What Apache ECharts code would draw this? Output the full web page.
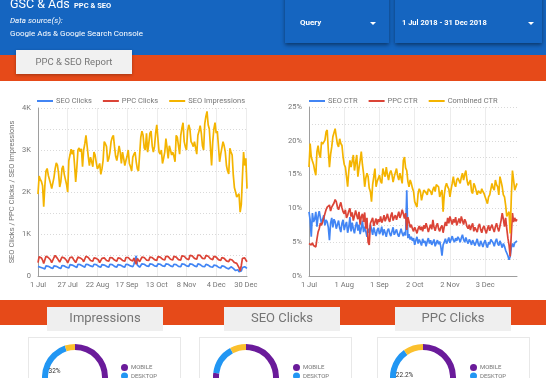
<!DOCTYPE html>
<html><head><meta charset="utf-8">
<script src="https://cdn.jsdelivr.net/npm/echarts/dist/echarts.min.js"></script>
<style>html,body{margin:0;padding:0;background:#fff}#c{width:546px;height:378px}</style>
</head><body><div id="c"></div>
<script>
// ---------- data ----------
const monthNames = ['Jul','Aug','Sep','Oct','Nov','Dec'];
const monthLengths = [31,31,30,31,30,31];
const leftTickLabels = ['1 Jul','27 Jul','22 Aug','17 Sep','13 Oct','8 Nov','4 Dec','30 Dec'];
const rightTickLabels = ['1 Jul','1 Aug','1 Sep','2 Oct','2 Nov','3 Dec'];

const seoClicks = [
230,220,210,200,190,150,170, 240,250,230,220,200,160,180, 240,250,230,220,200,170,180,
250,260,240,230,210,180,190, 270,280,260,250,230,190,200, 280,290,270,260,240,200,210,
280,300,270,260,240,200,220, 280,290,270,250,230,200,210, 270,280,260,250,230,190,210,
280,290,270,250,230,200,210, 270,280,260,250,230,190,210, 280,290,270,260,240,200,220,
280,290,480,260,240,210,220, 290,300,280,260,240,210,230, 290,310,280,260,240,210,230,
290,300,280,260,240,210,230, 290,300,280,260,240,210,220, 280,300,270,250,230,200,220,
290,300,280,260,240,210,230, 290,310,280,260,240,210,220, 290,300,270,250,230,200,220,
280,290,260,240,220,190,210, 260,270,250,230,210,180,190, 240,250,230,210,190,160,170,
210,220,200,180,160,130,140, 150,100,70,120,200,230,220, 200,180];

const ppcClicks = [
320,460,500,430,380,300,340, 470,510,440,400,380,320,330, 440,490,470,420,390,330,350,
450,480,430,410,370,310,340, 440,470,450,400,380,320,330, 450,460,430,400,390,340,360,
470,490,440,410,370,330,350, 430,460,420,400,380,320,340, 420,440,430,410,370,330,350,
440,460,430,400,380,340,350, 430,450,420,400,370,330,350, 440,460,440,410,380,340,360,
430,450,280,420,390,340,360, 450,470,440,420,380,350,370, 450,470,440,420,390,350,370,
460,480,450,430,400,360,380, 470,490,460,430,400,360,380, 470,480,450,420,390,360,380,
480,500,470,440,410,370,390, 490,510,480,450,420,380,400, 500,530,490,460,420,390,410,
490,510,470,440,410,370,390, 470,490,450,420,390,350,370, 440,460,420,390,360,320,340,
400,420,380,350,320,280,300, 330,200,120,250,420,460,430, 380,340];

const seoImpressions = [
1950,2380,2300,2250,2150,1650,2150,2500,2560,2400,
2380,2200,2080,2060,2350,2550,2690,2640,2450,2120,
2250,2560,2620,2420,2300,2180,2000,2750,2880,3020,
2900,3000,2650,2240,2580,3000,3050,2960,3030,2600,
3000,3150,3350,3100,2850,2630,2830,2720,2600,2950,
2880,2700,2550,2600,2680,2420,2550,2750,3200,3150,
3080,2720,2800,2950,3200,3300,3350,3080,2850,2750,
2900,3100,2950,2680,2950,2800,2630,2750,2850,3000,
2680,2600,2500,2830,2900,2950,2720,2550,2500,2900,
3300,3450,3350,3050,3000,3400,2950,3150,3400,3450,
3100,2950,3080,3400,3600,3270,2950,2900,3000,2680,
2800,2950,3270,3050,2800,3100,3000,2880,2950,2850,
2720,3350,3300,3270,2900,3350,3520,3650,3200,3080,
3000,3450,3600,3500,3200,3150,3080,3200,3050,2900,
3350,3450,3580,3400,3100,3000,3620,3800,3920,3600,
3500,3470,2630,3200,3500,3650,3400,3450,3100,2720,
2900,2880,3200,3100,2950,2630,2500,2430,3040,2950,
2880,2400,2100,2000,1880,1920,1960,1520,1700,2360,
2950,2630,2800,2080];

const seoCtr = [
9.5,8.3,5.8,9.3,8.0,8.4,9.5, 7.3,8.8,9.6,8.6,7.8,8.4,9.0, 7.5,8.3,8.0,7.2,5.3,7.8,8.6,
7.2,8.4,8.0,7.0,7.6,8.2,7.1, 6.5,7.8,8.3,6.8,7.5,8.0,6.4, 7.2,8.7,6.6,7.9,7.0,6.3,7.4,
8.0,6.7,7.6,6.2,7.1,8.2,6.5, 7.3,6.6,5.8,7.0,6.4,7.6,6.9, 6.1,7.2,6.5,5.9,6.8,7.1,6.2,
6.6,7.3,6.0,6.9,6.4,5.8,6.7, 7.0,6.3,5.9,6.6,7.2,6.1,6.5, 6.9,6.2,5.8,6.4,7.0,6.3,5.9,
6.5,6.0,12.7,5.6,6.2,5.4,5.8, 5.2,5.6,4.6,5.3,5.8,4.8,5.4, 5.0,4.5,5.5,4.9,5.2,4.4,5.1,
5.6,4.8,5.3,4.6,5.0,5.4,4.4, 4.9,5.3,4.7,5.1,4.3,3.0,4.6, 5.0,5.5,4.8,5.2,5.7,4.9,5.4,
5.9,5.3,5.0,5.6,5.2,5.8,5.5, 5.0,5.6,6.1,5.4,5.0,5.7,5.2, 4.8,5.4,5.1,4.6,5.3,4.9,4.5,
5.0,5.5,4.7,4.4,5.2,4.8,4.3, 4.9,5.3,4.6,4.2,5.0,4.7,5.4, 5.6,4.9,4.4,5.1,5.5,4.8,4.5,
5.2,4.7,4.2,4.8,4.4,3.8,3.4, 3.0,2.4,2.9,4.2,4.8,4.3,4.9, 5.0,5.2];

const ppcCtr = [
4.8,5.0,4.6,4.9,4.5,4.4,4.3, 5.5,6.5,7.0,7.8,7.5,8.0,8.6, 9.2,9.8,10.2,10.0,10.5,9.6,10.2,
10.5,10.8,11.3,11.0,10.2,9.8,10.4, 10.9,10.1,9.5,9.2,9.8,8.6,9.0, 9.6,10.0,8.8,9.4,8.2,8.9,9.7,
9.0,8.4,9.5,7.6,8.8,9.2,8.0, 9.4,7.0,8.6,5.0,4.6,7.8,8.2, 8.6,7.4,8.0,8.5,7.6,8.4,8.0,
8.8,7.9,8.3,9.0,8.1,8.6,9.2, 8.4,8.0,8.9,9.4,8.2,8.7,9.0, 8.3,8.9,9.5,8.6,9.1,9.8,9.2,
8.5,9.3,6.8,8.7,8.0,7.2,7.6, 7.0,6.6,7.2,6.8,6.3,7.0,7.4, 6.8,7.3,6.6,7.5,7.0,7.8,7.2,
6.5,7.1,7.6,6.9,8.3,7.2,6.7, 7.4,7.8,7.0,6.6,7.2,7.5,6.4, 7.3,8.0,7.4,8.6,7.8,8.8,8.2,
7.6,8.4,7.9,8.7,7.5,8.0,8.5, 7.8,8.8,8.2,7.6,8.4,8.0,7.3, 7.0,7.6,6.8,7.4,7.8,6.6,7.2,
7.0,6.5,7.3,7.7,6.9,6.4,7.1, 7.4,6.8,6.3,7.0,7.5,6.7,7.2, 7.6,7.0,6.5,7.3,7.8,7.1,6.6,
7.4,8.2,9.3,8.4,7.3,8.6,7.0, 5.6,4.6,2.9,6.2,9.3,8.0,8.6, 8.1,8.4];

const combinedCtr = [
16.1,19.6,17.6,17.0,16.5,15.6,14.9,18.4,19.3,18.0,
17.5,19.8,19.5,19.3,20.1,21.3,21.6,18.6,16.1,18.0,
19.1,20.6,21.2,21.8,20.6,19.5,19.1,20.3,19.6,19.3,
17.6,16.5,16.1,14.7,13.2,15.5,17.1,16.1,17.0,17.9,
15.6,16.8,17.9,14.7,16.0,17.1,18.4,16.5,15.2,13.2,
14.5,15.2,14.7,13.0,12.5,11.0,13.5,14.7,15.9,13.2,
14.0,14.2,14.9,14.0,13.7,15.9,15.2,14.7,16.1,15.0,
14.2,15.2,15.6,15.0,13.9,14.7,15.3,15.9,14.8,14.2,
15.2,14.5,13.7,17.1,17.6,16.0,15.6,14.0,13.2,14.2,
13.7,13.0,12.5,11.0,10.8,10.2,12.2,12.9,12.5,11.2,
12.0,12.7,12.7,12.3,12.0,12.9,12.7,12.5,12.0,12.8,
13.2,12.5,13.5,13.4,13.2,11.7,12.3,12.7,9.5,12.0,
13.2,13.7,13.2,12.9,11.7,12.8,13.7,14.7,13.6,13.2,
14.2,14.5,14.7,13.7,14.6,15.2,14.2,15.0,15.6,14.2,
13.4,13.2,14.2,12.5,12.2,13.7,13.3,13.2,12.0,12.6,
12.7,12.2,12.9,12.5,12.2,11.7,11.2,10.7,11.7,12.0,
12.2,13.7,13.0,12.7,14.2,13.5,13.2,12.0,14.7,14.0,
13.2,12.0,11.7,10.5,8.8,9.2,9.5,6.3,11.7,15.6,
14.2,12.7,13.2,13.7];

const deviceNames = ['MOBILE','DESKTOP','TABLET'];
const impressionsShare = [63, 32, 5];
const seoClicksShare = [77, 15, 8];
const ppcClicksShare = [68, 22.2, 9.8];

// ---------- build ----------
const days = [];
monthNames.forEach((m, i) => { for (let d = 1; d <= monthLengths[i]; d++) days.push(d + ' ' + m); });

const FONT = 'Roboto';
const GREY = '#757575';
const BLUE = '#4285f4', RED = '#db4437', YELLOW = '#f4b400';
const deviceColors = ['#6a1b9a', '#2196f3', '#fbc02d'];

const leftShow = (i) => leftTickLabels.indexOf(days[i]) >= 0;
const rightShow = (i) => rightTickLabels.indexOf(days[i]) >= 0;

function xAxisFor(gridIndex, showFn) {
  return {
    type: 'category', gridIndex, data: days, boundaryGap: false,
    axisLine: { lineStyle: { color: '#9e9e9e', width: 1 } },
    axisTick: { show: false },
    axisLabel: { interval: showFn, fontSize: 7.5, color: GREY, fontFamily: FONT, margin: 5 },
    splitLine: { show: true, interval: showFn, lineStyle: { color: '#ececec', width: 1 } }
  };
}

function line(name, data, color, xi) {
  return {
    type: 'line', name, data, xAxisIndex: xi, yAxisIndex: xi,
    showSymbol: false, symbol: 'none', smooth: false,
    lineStyle: { color, width: 1.7 }, itemStyle: { color }, silent: true
  };
}

function pie(name, values, cx, labelIdx, labelOffset) {
  return {
    type: 'pie', name, center: [cx, 377], radius: [27, 33], startAngle: 90, clockwise: true,
    silent: true, avoidLabelOverlap: false,
    label: { show: false },
    labelLine: { show: false },
    data: values.map((v, i) => ({
      name: deviceNames[i], value: v,
      itemStyle: { color: deviceColors[i] },
      label: i === labelIdx ? { show: true, position: 'inside', formatter: '{d}%', fontSize: 6.5,
        color: '#333', fontFamily: FONT, offset: labelOffset } : { show: false }
    }))
  };
}

function pieLegend(left) {
  return {
    data: deviceNames, orient: 'vertical', left, top: 364, height: 60, icon: 'circle',
    itemWidth: 7, itemHeight: 7, itemGap: 1.5, selectedMode: false, padding: 0,
    textStyle: { fontSize: 6, color: GREY, fontFamily: FONT, padding: [0, 0, 0, -2] }
  };
}

function lineLegend(left, names) {
  return {
    data: names, left, top: 97, icon: 'rect', itemWidth: 16, itemHeight: 2, itemGap: 11, padding: 0,
    selectedMode: false, textStyle: { fontSize: 7.5, color: GREY, fontFamily: FONT, padding: [0, 0, 0, -2] }
  };
}

const graphic = [
  { type: 'rect', shape: { x: 0, y: 0, width: 546, height: 55 }, style: { fill: '#1565c0' }, z: -10 },
  { type: 'rect', shape: { x: 0, y: 55, width: 546, height: 26 }, style: { fill: '#e64a19' }, z: -10 },
  { type: 'rect', shape: { x: 0, y: 300, width: 546, height: 25 }, style: { fill: '#e64a19' }, z: -10 },
  // dropdowns
  { type: 'rect', shape: { x: 285, y: -6, width: 104, height: 49 },
    style: { fill: '#1565c0', shadowBlur: 4, shadowOffsetY: 2, shadowColor: 'rgba(0,0,0,0.45)' }, z: -5 },
  { type: 'rect', shape: { x: 395, y: -6, width: 147, height: 49 },
    style: { fill: '#1565c0', shadowBlur: 4, shadowOffsetY: 2, shadowColor: 'rgba(0,0,0,0.45)' }, z: -5 },
  { type: 'text', x: 300, y: 23, style: { text: 'Query', fill: '#fff', font: 'bold 8px Roboto', verticalAlign: 'middle' }, z: 1 },
  { type: 'polygon', shape: { points: [[370, 22], [376, 22], [373, 25]] }, style: { fill: '#fff' }, z: 1 },
  { type: 'text', x: 402, y: 23, style: { text: '1 Jul 2018 - 31 Dec 2018', fill: '#fff', font: 'bold 7.5px Roboto', verticalAlign: 'middle' }, z: 1 },
  { type: 'polygon', shape: { points: [[528, 22], [534, 22], [531, 25]] }, style: { fill: '#fff' }, z: 1 },
  // header titles
  { type: 'text', x: 10, y: 5, style: { text: 'GSC & Ads', fill: '#fff', font: '12.5px Roboto', verticalAlign: 'middle' }, z: 1 },
  { type: 'text', x: 74, y: 6.5, style: { text: 'PPC & SEO', fill: '#fff', font: 'bold 7.5px Roboto', verticalAlign: 'middle' }, z: 1 },
  { type: 'text', x: 10, y: 20.5, style: { text: 'Data source(s):', fill: '#fff', font: 'italic 8px Roboto', verticalAlign: 'middle' }, z: 1 },
  { type: 'text', x: 10, y: 34, style: { text: 'Google Ads & Google Search Console', fill: '#fff', font: '8px Roboto', verticalAlign: 'middle' }, z: 1 },
  // report tab
  { type: 'rect', shape: { x: 16, y: 50, width: 116, height: 24 },
    style: { fill: '#f1f1f1', shadowBlur: 3, shadowOffsetY: 1, shadowColor: 'rgba(0,0,0,0.3)' }, z: -4 },
  { type: 'text', x: 74, y: 62.5, style: { text: 'PPC & SEO Report', fill: GREY, font: '9.5px Roboto', align: 'center', verticalAlign: 'middle' }, z: 1 },
  // section tabs
  { type: 'rect', shape: { x: 47, y: 307, width: 116, height: 24 }, style: { fill: '#efefef' }, z: -4 },
  { type: 'rect', shape: { x: 224, y: 307, width: 116, height: 24 }, style: { fill: '#efefef' }, z: -4 },
  { type: 'rect', shape: { x: 395, y: 307, width: 116, height: 24 }, style: { fill: '#efefef' }, z: -4 },
  { type: 'text', x: 105, y: 319, style: { text: 'Impressions', fill: GREY, font: '13px Roboto', align: 'center', verticalAlign: 'middle' }, z: 1 },
  { type: 'text', x: 282, y: 319, style: { text: 'SEO Clicks', fill: GREY, font: '13px Roboto', align: 'center', verticalAlign: 'middle' }, z: 1 },
  { type: 'text', x: 453, y: 319, style: { text: 'PPC Clicks', fill: GREY, font: '13px Roboto', align: 'center', verticalAlign: 'middle' }, z: 1 },
  // cards
  { type: 'rect', shape: { x: 28.5, y: 337.5, width: 152, height: 60 }, style: { fill: '#fff', stroke: '#d0d0d0', lineWidth: 1, lineDash: [1, 1] }, z: -4 },
  { type: 'rect', shape: { x: 199.5, y: 337.5, width: 152, height: 60 }, style: { fill: '#fff', stroke: '#d0d0d0', lineWidth: 1, lineDash: [1, 1] }, z: -4 },
  { type: 'rect', shape: { x: 377.5, y: 337.5, width: 152, height: 60 }, style: { fill: '#fff', stroke: '#d0d0d0', lineWidth: 1, lineDash: [1, 1] }, z: -4 }
];

const option = {
  animation: false,
  backgroundColor: '#fff',
  textStyle: { fontFamily: FONT },
  graphic,
  legend: [
    lineLegend(37, ['SEO Clicks', 'PPC Clicks', 'SEO Impressions']),
    lineLegend(309, ['SEO CTR', 'PPC CTR', 'Combined CTR']),
    pieLegend(121), pieLegend(293), pieLegend(470)
  ],
  grid: [
    { left: 38, top: 108, width: 209, height: 168, outerBoundsMode: 'none', containLabel: false },
    { left: 309, top: 107, width: 208, height: 169, outerBoundsMode: 'none', containLabel: false }
  ],
  xAxis: [xAxisFor(0, leftShow), xAxisFor(1, rightShow)],
  yAxis: [
    { type: 'value', gridIndex: 0, min: 0, max: 4000, interval: 500,
      name: 'SEO Clicks / PPC Clicks / SEO Impressions', nameLocation: 'middle', nameGap: 22, nameRotate: 90,
      nameTextStyle: { fontSize: 7.5, color: GREY, fontFamily: FONT },
      axisLine: { show: true, lineStyle: { color: '#9e9e9e' } }, axisTick: { show: false },
      axisLabel: { fontSize: 7.5, color: GREY, fontFamily: FONT, margin: 7,
        formatter: v => v === 0 ? '0' : (v % 1000 === 0 ? (v / 1000) + 'K' : '') },
      splitLine: { lineStyle: { color: '#d9d9d9', type: [1, 2] } } },
    { type: 'value', gridIndex: 1, min: 0, max: 25, interval: 2.5,
      axisLine: { show: true, lineStyle: { color: '#9e9e9e' } }, axisTick: { show: false },
      axisLabel: { fontSize: 7.5, color: GREY, fontFamily: FONT, margin: 7,
        formatter: v => (v % 5 === 0 ? v + '%' : '') },
      splitLine: { lineStyle: { color: '#d9d9d9', type: [1, 2] } } }
  ],
  series: [
    line('SEO Clicks', seoClicks, BLUE, 0),
    line('PPC Clicks', ppcClicks, RED, 0),
    line('SEO Impressions', seoImpressions, YELLOW, 0),
    line('SEO CTR', seoCtr, BLUE, 1),
    line('PPC CTR', ppcCtr, RED, 1),
    line('Combined CTR', combinedCtr, YELLOW, 1),
    pie('Impressions', impressionsShare, 75, 1, [11.5, 3]),
    pie('SEO Clicks share', seoClicksShare, 246, -1, [0, 0]),
    pie('PPC Clicks share', ppcClicksShare, 423, 1, [13.5, 7])
  ]
};

const chart = echarts.init(document.getElementById('c'), null, { renderer: 'canvas' });
chart.setOption(option);
</script>
</body></html>
